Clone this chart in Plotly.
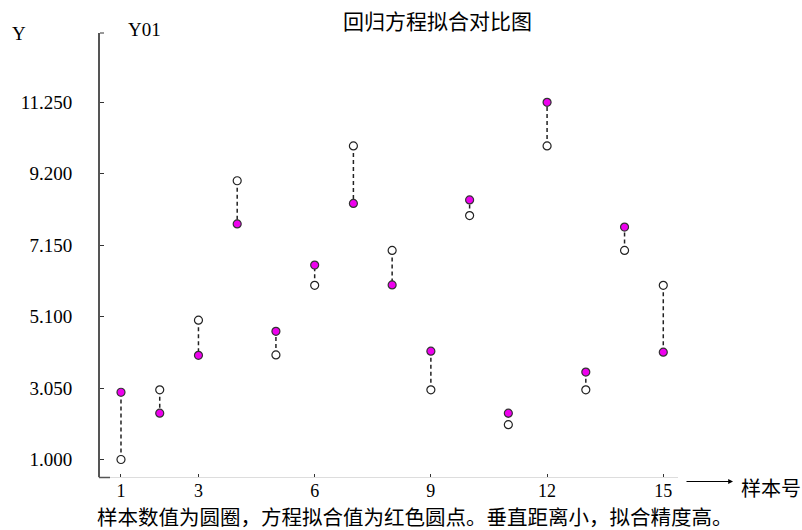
import plotly.graph_objects as go

samples = list(range(1, 16))
actual = [1.0, 3.0, 5.0, 9.0, 4.0, 6.0, 10.0, 7.0, 3.0, 8.0, 2.0, 10.0, 3.0, 7.0, 6.0]
fitted = [2.93, 2.33, 3.99, 7.76, 4.68, 6.58, 8.35, 6.01, 4.11, 8.45, 2.33, 11.25, 3.51, 7.67, 4.08]
y_ticks = [1.0, 3.05, 5.1, 7.15, 9.2, 11.25]
y_tick_text = ["1.000", "3.050", "5.100", "7.150", "9.200", "11.250"]
x_ticks = [1, 3, 6, 9, 12, 15]

W, H = 802, 530
L, R, T, B = 100, 678, 33, 477

def px(xp):
    return (xp - L) / (R - L)

def py(yp):
    return (B - yp) / (B - T)

serif = "Liberation Serif, Times New Roman, serif"
cjk = "Noto Sans CJK SC, sans-serif"

fig = go.Figure()

# dashed connectors
lx, ly = [], []
for s, a, f in zip(samples, actual, fitted):
    lx += [s, s, None]
    ly += [a, f, None]
fig.add_trace(go.Scatter(x=lx, y=ly, mode="lines",
                         line=dict(color="#222222", width=1.5, dash="4px,3px"),
                         hoverinfo="skip", showlegend=False))
fig.add_trace(go.Scatter(x=samples, y=actual, mode="markers",
                         marker=dict(size=8, color="white", line=dict(color="#222222", width=1.2)),
                         name="样本值", showlegend=False))
fig.add_trace(go.Scatter(x=samples, y=fitted, mode="markers",
                         marker=dict(size=8, color="#ee00ee", line=dict(color="#333333", width=1.2)),
                         name="拟合值", showlegend=False))

fig.update_layout(
    width=W, height=H,
    margin=dict(l=L, r=W - R, t=T, b=H - B),
    paper_bgcolor="white", plot_bgcolor="white",
    showlegend=False,
    xaxis=dict(range=[0.458, 15.38], tickvals=x_ticks, ticktext=[str(v) for v in x_ticks],
               showgrid=False, zeroline=False, showline=True, linecolor="#dddddd", linewidth=1,
               ticks="inside", ticklen=3, tickcolor="#333333", tickwidth=1,
               tickfont=dict(family=serif, size=18, color="black"), ticklabelstandoff=-3),
    yaxis=dict(range=[0.498, 13.24], tickvals=y_ticks, ticktext=y_tick_text,
               showgrid=False, zeroline=False, showline=True, linecolor="#555555", linewidth=2,
               ticks="inside", ticklen=4, tickcolor="#333333", tickwidth=1,
               tickfont=dict(family=serif, size=19, color="black"), ticklabelstandoff=22),
)

# small tick at top of y axis
fig.add_shape(type="line", xref="paper", yref="paper", x0=px(100), x1=px(104), y0=py(33), y1=py(33),
              line=dict(color="#333333", width=1))
# dark foot of axes corner
fig.add_shape(type="line", xref="paper", yref="paper", x0=px(99), x1=px(110), y0=py(477.5), y1=py(477.5),
              line=dict(color="#555555", width=1.5))

def ann(text, xp, yp, size, family, xanchor="center", yanchor="middle"):
    fig.add_annotation(text=text, xref="paper", yref="paper", x=px(xp), y=py(yp),
                       showarrow=False, xanchor=xanchor, yanchor=yanchor, borderpad=0,
                       font=dict(family=family, size=size, color="black"))

ann("回归方程拟合对比图", 437, 20, 21, cjk)
ann("Y", 19, 33, 19, serif)
ann("Y01", 144, 29, 19, serif)
ann("样本号", 740, 487, 20, cjk, xanchor="left")
ann("样本数值为圆圈，方程拟合值为红色圆点。垂直距离小，拟合精度高。", 96, 532, 20.5, cjk,
    xanchor="left", yanchor="bottom")

# arrow for x axis
fig.add_annotation(xref="paper", yref="paper", x=px(733), y=py(481.5), ax=-48, ay=0,
                   axref="pixel", ayref="pixel", text="", showarrow=True,
                   arrowhead=2, arrowsize=0.8, arrowwidth=1.2, arrowcolor="black")

fig.write_html("out.html")
